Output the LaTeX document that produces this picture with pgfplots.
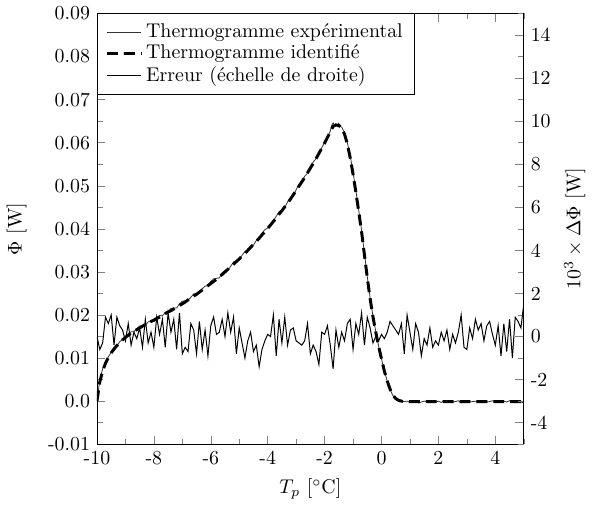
\documentclass[border=0pt]{standalone}
\usepackage{pgfplots}
\pgfplotsset{compat=1.18}
\begin{document}
\begin{tikzpicture}
\begin{axis}[
  scale only axis, width=215pt, height=217pt,
  xmin=-10, xmax=5, ymin=-0.01, ymax=0.09,
  scaled y ticks=false, scaled x ticks=false,
  xtick={-10,-8,-6,-4,-2,0,2,4},
  xticklabels={-10,-8,-6,-4,-2,0,2,4},
  minor xtick={-9,-7,-5,-3,-1,1,3,5},
  ytick={-0.01,0,0.01,0.02,0.03,0.04,0.05,0.06,0.07,0.08,0.09},
  yticklabels={-0.01,0.0,0.01,0.02,0.03,0.04,0.05,0.06,0.07,0.08,0.09},
  minor ytick={-0.005,0.005,0.015,0.025,0.035,0.045,0.055,0.065,0.075,0.085},
  ytick pos=left, xtick pos=both,
  tick align=inside,
  xlabel={$T_p$ [$^\circ$C]}, ylabel={$\Phi$ [W]},
  ylabel shift=4pt,
  legend style={at={(0,1)}, anchor=north west, draw=black, fill=white, font=\normalsize,
    cells={anchor=west}, inner xsep=4pt, inner ysep=3pt, row sep=-1.8pt},
  legend image post style={},
  legend cell align=left,
]
\addplot[black!80, line width=0.4pt] coordinates {
(-10.0,0.0000) (-9.9,0.0049) (-9.8,0.0075) (-9.7,0.0091) (-9.6,0.0103) (-9.5,0.0113) (-9.4,0.0124) (-9.3,0.0128) (-9.2,0.0138) (-9.1,0.0143)
(-9.0,0.0146) (-8.9,0.0154) (-8.8,0.0161) (-8.7,0.0161) (-8.6,0.0168) (-8.5,0.0174) (-8.4,0.0175) (-8.3,0.0176) (-8.2,0.0184) (-8.1,0.0185)
(-8.0,0.0185) (-7.9,0.0194) (-7.8,0.0199) (-7.7,0.0198) (-7.6,0.0206) (-7.5,0.0207) (-7.4,0.0215) (-7.3,0.0216) (-7.2,0.0216) (-7.1,0.0226)
(-7.0,0.0232) (-6.9,0.0233) (-6.8,0.0234) (-6.7,0.0241) (-6.6,0.0249) (-6.5,0.0249) (-6.4,0.0251) (-6.3,0.0261) (-6.2,0.0267) (-6.1,0.0268)
(-6.0,0.0278) (-5.9,0.0284) (-5.8,0.0285) (-5.7,0.0286) (-5.6,0.0298) (-5.5,0.0303) (-5.4,0.0304) (-5.3,0.0313) (-5.2,0.0323) (-5.1,0.0326)
(-5.0,0.0327) (-4.9,0.0339) (-4.8,0.0347) (-4.7,0.0350) (-4.6,0.0360) (-4.5,0.0362) (-4.4,0.0373) (-4.3,0.0377) (-4.2,0.0390) (-4.1,0.0398)
(-4.0,0.0402) (-3.9,0.0407) (-3.8,0.0419) (-3.7,0.0429) (-3.6,0.0440) (-3.5,0.0444) (-3.4,0.0449) (-3.3,0.0463) (-3.2,0.0470) (-3.1,0.0477)
(-3.0,0.0491) (-2.9,0.0503) (-2.8,0.0510) (-2.7,0.0522) (-2.6,0.0529) (-2.5,0.0543) (-2.4,0.0555) (-2.3,0.0563) (-2.2,0.0577) (-2.1,0.0588)
(-2.0,0.0601) (-1.9,0.0613) (-1.8,0.0627) (-1.75,0.0640) (-1.7,0.0646) (-1.65,0.0641) (-1.6,0.0644) (-1.55,0.0639) (-1.5,0.0645) (-1.45,0.0638)
(-1.4,0.0636) (-1.3,0.0623) (-1.2,0.0600) (-1.1,0.0570) (-1.0,0.0531) (-0.9,0.0489) (-0.8,0.0443) (-0.7,0.0397) (-0.6,0.0343) (-0.5,0.0289)
(-0.4,0.0240) (-0.3,0.0198) (-0.2,0.0161) (-0.1,0.0128) (0.0,0.0098) (0.1,0.0070) (0.2,0.0047) (0.3,0.0027) (0.4,0.0013) (0.5,0.0005)
(0.6,0.0001) (0.7,0.0000) (0.8,-0.0001) (0.9,0.0000) (1.0,-0.0003) (1.1,-0.0002) (1.2,0.0000) (1.3,-0.0004) (1.4,-0.0002) (1.5,0.0000)
(1.6,-0.0001) (1.7,0.0002) (1.8,-0.0001) (1.9,-0.0002) (2.0,0.0000) (2.1,-0.0003) (2.2,0.0001) (2.3,-0.0001) (2.4,0.0000) (2.5,-0.0002)
(2.6,-0.0001) (2.7,0.0001) (2.8,-0.0004) (2.9,-0.0001) (3.0,0.0001) (3.1,-0.0002) (3.2,-0.0001) (3.3,0.0000) (3.4,-0.0003) (3.5,-0.0001)
(3.6,0.0000) (3.7,-0.0002) (3.8,-0.0001) (3.9,0.0001) (4.0,-0.0002) (4.1,-0.0001) (4.2,-0.0003) (4.3,0.0000) (4.4,-0.0002) (4.5,0.0001)
(4.6,-0.0001) (4.7,-0.0003) (4.8,0.0000) (4.9,-0.0002) (5.0,-0.0004)
};
\addlegendentry{Thermogramme expérimental}
\addplot[black, line width=1.5pt, dash pattern=on 5.5pt off 3pt] coordinates {
(-10.0,0.0000) (-9.9,0.0045) (-9.8,0.0070) (-9.7,0.0088) (-9.6,0.0101) (-9.5,0.0112) (-9.4,0.0121) (-9.3,0.0129) (-9.2,0.0136) (-9.1,0.0142)
(-9.0,0.0148) (-8.9,0.0153) (-8.8,0.0158) (-8.7,0.0162) (-8.6,0.0166) (-8.5,0.0170) (-8.4,0.0174) (-8.3,0.0178) (-8.2,0.0181) (-8.1,0.0185)
(-8.0,0.0188) (-7.9,0.0192) (-7.8,0.0195) (-7.7,0.0199) (-7.6,0.0203) (-7.5,0.0207) (-7.4,0.0210) (-7.3,0.0214) (-7.2,0.0218) (-7.1,0.0222)
(-7.0,0.0226) (-6.9,0.0230) (-6.8,0.0235) (-6.7,0.0239) (-6.6,0.0244) (-6.5,0.0248) (-6.4,0.0253) (-6.3,0.0258) (-6.2,0.0263) (-6.1,0.0268)
(-6.0,0.0273) (-5.9,0.0278) (-5.8,0.0283) (-5.7,0.0289) (-5.6,0.0294) (-5.5,0.0300) (-5.4,0.0306) (-5.3,0.0312) (-5.2,0.0318) (-5.1,0.0324)
(-5.0,0.0330) (-4.9,0.0337) (-4.8,0.0343) (-4.7,0.0350) (-4.6,0.0357) (-4.5,0.0364) (-4.4,0.0371) (-4.3,0.0378) (-4.2,0.0386) (-4.1,0.0393)
(-4.0,0.0401) (-3.9,0.0409) (-3.8,0.0417) (-3.7,0.0425) (-3.6,0.0434) (-3.5,0.0442) (-3.4,0.0451) (-3.3,0.0460) (-3.2,0.0469) (-3.1,0.0479)
(-3.0,0.0489) (-2.9,0.0499) (-2.8,0.0509) (-2.7,0.0519) (-2.6,0.0530) (-2.5,0.0541) (-2.4,0.0552) (-2.3,0.0563) (-2.2,0.0575) (-2.1,0.0587)
(-2.0,0.0599) (-1.9,0.0612) (-1.8,0.0625) (-1.7,0.0638) (-1.6,0.0641) (-1.5,0.0640) (-1.4,0.0634) (-1.3,0.0620) (-1.2,0.0597) (-1.1,0.0565)
(-1.0,0.0527) (-0.9,0.0485) (-0.8,0.0440) (-0.7,0.0393) (-0.6,0.0340) (-0.5,0.0287) (-0.4,0.0238) (-0.3,0.0196) (-0.2,0.0160) (-0.1,0.0127)
(0.0,0.0098) (0.1,0.0070) (0.2,0.0047) (0.3,0.0028) (0.4,0.0014) (0.5,0.0006) (0.6,0.0002) (0.7,0.0000) (0.8,-0.0001) (1.0,-0.0001)
(1.5,-0.0001) (2.0,-0.0001) (3.0,-0.0001) (4.0,-0.0001) (5.0,-0.0001)
};
\addlegendentry{Thermogramme identifié}
\addlegendimage{black, line width=0.5pt}
\addlegendentry{Erreur (échelle de droite)}
\end{axis}
\begin{axis}[
  scale only axis, width=215pt, height=217pt,
  xmin=-10, xmax=5, ymin=-5, ymax=15,
  axis x line=none, axis y line*=right,
  ytick={-4,-2,0,2,4,6,8,10,12,14},
  yticklabels={-4,-2,0,2,4,6,8,10,12,14},
  minor ytick={-5,-3,-1,1,3,5,7,9,11,13,15},
  tick align=inside,
  ylabel={$10^3\times\Delta\Phi$ [W]},
]
\addplot[black, line width=0.5pt] coordinates {
(-10.0,0.0) (-9.9,-0.6) (-9.8,-0.3) (-9.7,0.9) (-9.6,0.6) (-9.5,1.0) (-9.4,-0.4) (-9.3,0.9) (-9.2,0.5) (-9.1,0.3)
(-9.0,-0.2) (-8.9,0.6) (-8.8,-0.4) (-8.7,0.2) (-8.6,-0.1) (-8.5,0.4) (-8.4,-0.5) (-8.3,0.8) (-8.2,-0.3) (-8.1,0.2)
(-8.0,-0.5) (-7.9,0.9) (-7.8,0.1) (-7.7,0.8) (-7.6,-0.5) (-7.5,1.1) (-7.4,0.2) (-7.3,0.8) (-7.2,-0.6) (-7.1,1.1)
(-7.0,-0.8) (-6.9,-0.5) (-6.8,-0.7) (-6.7,0.6) (-6.6,0.3) (-6.5,-0.8) (-6.4,0.7) (-6.3,-0.6) (-6.2,0.3) (-6.1,-0.9)
(-6.0,0.5) (-5.9,0.9) (-5.8,0.1) (-5.7,0.2) (-5.6,0.8) (-5.5,0.0) (-5.4,1.1) (-5.3,0.2) (-5.2,0.9) (-5.1,-0.8)
(-5.0,0.4) (-4.9,-0.3) (-4.8,-1.0) (-4.7,-0.2) (-4.6,0.2) (-4.5,-0.7) (-4.4,-0.4) (-4.3,-1.4) (-4.2,-0.6) (-4.1,-0.2)
(-4.0,0.1) (-3.9,0.0) (-3.8,1.0) (-3.7,-0.9) (-3.6,0.8) (-3.5,-0.3) (-3.4,0.9) (-3.3,-0.4) (-3.2,0.3) (-3.1,0.4)
(-3.0,-0.2) (-2.9,-0.3) (-2.8,-0.4) (-2.7,-0.2) (-2.6,0.6) (-2.5,-0.8) (-2.4,-0.4) (-2.3,-0.7) (-2.2,-1.3) (-2.1,0.2)
(-2.0,0.1) (-1.9,0.5) (-1.8,-0.4) (-1.7,-1.5) (-1.6,0.3) (-1.5,-0.5) (-1.4,0.2) (-1.3,-0.2) (-1.2,0.6) (-1.1,0.8)
(-1.0,-0.6) (-0.9,0.6) (-0.8,0.1) (-0.7,1.1) (-0.6,-0.4) (-0.5,0.9) (-0.4,0.4) (-0.3,-0.3) (-0.2,0.0) (-0.1,-0.2)
(0.0,0.1) (0.1,-0.1) (0.2,0.2) (0.3,0.7) (0.4,0.5) (0.5,0.3) (0.6,0.1) (0.7,0.6) (0.8,-0.8) (0.9,1.0)
(1.0,0.2) (1.1,-0.6) (1.2,0.6) (1.3,0.2) (1.4,-0.9) (1.5,-0.1) (1.6,-0.4) (1.7,0.4) (1.8,-0.5) (1.9,-0.2)
(2.0,-0.4) (2.1,0.2) (2.2,-0.2) (2.3,0.3) (2.4,-0.6) (2.5,0.1) (2.6,-0.3) (2.7,0.2) (2.8,1.0) (2.9,-0.5)
(3.0,-0.6) (3.1,0.4) (3.2,-0.1) (3.3,0.8) (3.4,0.3) (3.5,0.6) (3.6,-0.2) (3.7,0.5) (3.8,0.7) (3.9,0.1)
(4.0,-0.4) (4.1,0.5) (4.2,-0.9) (4.3,0.6) (4.4,-0.7) (4.5,0.8) (4.6,-1.0) (4.7,0.9) (4.8,0.7) (4.9,0.4)
(5.0,1.5)
};
\end{axis}
\end{tikzpicture}
\end{document}
